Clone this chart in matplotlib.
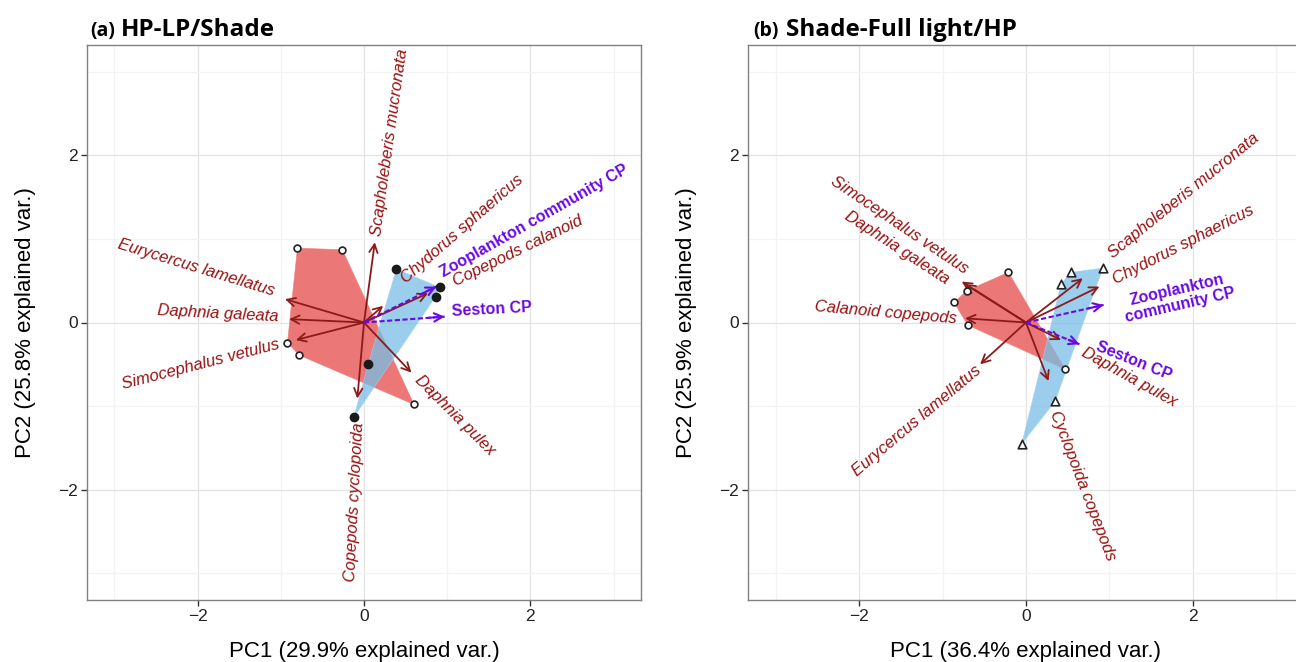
import numpy as np
import matplotlib.pyplot as plt

# ---- panel (a) HP-LP/Shade ----
a_red_x = [-0.80, -0.26, -0.92, -0.78, 0.60]
a_red_y = [0.89, 0.87, -0.24, -0.39, -0.98]
a_blue_x = [0.39, 0.91, 0.86, 0.05, -0.12]
a_blue_y = [0.64, 0.42, 0.31, -0.50, -1.13]

a_vars = ['Scapholeberis mucronata', 'Eurycercus lamellatus', 'Daphnia galeata',
          'Simocephalus vetulus', 'Daphnia pulex', 'Copepods cyclopoida',
          'Chydorus sphaericus', 'Copepods calanoid']
a_arrow_x = [0.13, -0.95, -0.90, -0.82, 0.57, -0.08, 0.23, 0.77]
a_arrow_y = [0.96, 0.28, 0.04, -0.21, -0.60, -0.91, 0.20, 0.35]
a_lab_x = [0.31, -2.02, -1.75, -1.96, 1.09, -0.11, 1.18, 1.85]
a_lab_y = [2.16, 0.65, 0.11, -0.50, -1.11, -2.15, 1.12, 0.86]
a_lab_rot = [82, -17, -3, 14.5, -45, 87, 41, 26]

a_cp = ['Zooplankton community CP', 'Seston CP']
a_cp_x = [0.87, 0.97]
a_cp_y = [0.43, 0.07]
a_cp_lab_x = [2.04, 1.54]
a_cp_lab_y = [1.21, 0.16]
a_cp_rot = [29.5, 3]

# ---- panel (b) Shade-Full light/HP ----
b_red_x = [-0.21, -0.71, -0.86, -0.70, 0.47]
b_red_y = [0.60, 0.38, 0.24, -0.03, -0.56]
b_blue_x = [0.54, 0.92, 0.42, 0.35, -0.05]
b_blue_y = [0.60, 0.65, 0.46, -0.94, -1.45]

b_vars = ['Scapholeberis mucronata', 'Chydorus sphaericus', 'Daphnia pulex',
          'Cyclopoida copepods', 'Eurycercus lamellatus', 'Calanoid copepods',
          'Daphnia galeata', 'Simocephalus vetulus']
b_arrow_x = [0.68, 0.88, 0.42, 0.27, -0.55, -0.73, -0.73, -0.77]
b_arrow_y = [0.53, 0.43, -0.21, -0.70, -0.50, 0.05, 0.46, 0.49]
b_lab_x = [1.89, 1.89, 1.24, 0.68, -1.31, -1.68, -1.55, -1.52]
b_lab_y = [1.52, 0.93, -0.65, -1.95, -1.18, 0.12, 0.90, 1.17]
b_lab_rot = [39, 27, -29, -69, 40, -5, -33, -34]

b_cp = ['Zooplankton\ncommunity CP', 'Seston CP']
b_cp_x = [0.93, 0.64]
b_cp_y = [0.21, -0.26]
b_cp_lab_x = [1.83, 1.29]
b_cp_lab_y = [0.30, -0.46]
b_cp_rot = [13, -22]

RED_FILL = '#E8605F'
BLUE_FILL = '#79BEE6'
ARROW = '#8B1A1A'
LABEL = '#991111'
PURPLE = '#6A0AE0'
FONT = 'Liberation Sans'


def hull(xs, ys):
    pts = sorted(zip(xs, ys))
    def cross(o, a, b):
        return (a[0]-o[0])*(b[1]-o[1]) - (a[1]-o[1])*(b[0]-o[0])
    lower, upper = [], []
    for p in pts:
        while len(lower) >= 2 and cross(lower[-2], lower[-1], p) <= 0:
            lower.pop()
        lower.append(p)
    for p in reversed(pts):
        while len(upper) >= 2 and cross(upper[-2], upper[-1], p) <= 0:
            upper.pop()
        upper.append(p)
    return np.array(lower[:-1] + upper[:-1])


def draw_panel(ax, red, blue, blue_marker, vars_, ax_, ay_, lx, ly, lrot,
               cps, cx, cy, clx, cly, crot, xlabel, ylabel):
    ax.set_xlim(-3.33, 3.33)
    ax.set_ylim(-3.32, 3.32)
    ax.set_xticks([-2, 0, 2])
    ax.set_yticks([-2, 0, 2])
    ax.set_xticks([-3, -1, 1, 3], minor=True)
    ax.set_yticks([-3, -1, 1, 3], minor=True)
    ax.grid(True, which='major', color='#e3e3e3', lw=0.9, zorder=0)
    ax.grid(True, which='minor', color='#f3f3f3', lw=0.9, zorder=0)
    ax.set_axisbelow(True)
    ax.tick_params(which='minor', length=0)
    ax.tick_params(which='major', length=4, width=1, color='#333333', pad=2.5,
                   labelsize=12.5, labelcolor='#222222')
    for t in ax.get_xticklabels() + ax.get_yticklabels():
        t.set_family(FONT)
    for s in ax.spines.values():
        s.set_color('#808080')
        s.set_linewidth(1)

    h = hull(*red)
    ax.fill(h[:, 0], h[:, 1], color=RED_FILL, alpha=0.85, lw=0.5, ec='#F08080', zorder=1)
    h = hull(*blue)
    ax.fill(h[:, 0], h[:, 1], color=BLUE_FILL, alpha=0.75, lw=0.5, ec='#9fd3f0', zorder=2)

    ax.scatter(*red, s=24, facecolor='white', edgecolor='#222222', lw=1.2, zorder=5)
    if blue_marker == 'o':
        ax.scatter(*blue, s=36, facecolor='#1a1a1a', edgecolor='#1a1a1a', zorder=5)
    else:
        ax.scatter(*blue, s=38, marker='^', facecolor='white', edgecolor='#222222',
                   lw=1.2, zorder=5)

    for x, y in zip(ax_, ay_):
        ax.annotate('', xy=(x, y), xytext=(0, 0), zorder=4,
                    arrowprops=dict(arrowstyle='->', color=ARROW, lw=1.3,
                                    mutation_scale=15, shrinkA=0, shrinkB=0))
    for x, y in zip(cx, cy):
        ax.plot([0, x], [0, y], color=PURPLE, lw=1.5, ls=(0, (2.5, 1.2)), zorder=4)
        ax.annotate('', xy=(x, y), xytext=(0.8 * x, 0.8 * y), zorder=4,
                    arrowprops=dict(arrowstyle='->', color=PURPLE, lw=1.5,
                                    mutation_scale=15, shrinkA=0, shrinkB=0))

    for name, x, y, r in zip(vars_, lx, ly, lrot):
        ax.text(x, y, name, rotation=r, rotation_mode='anchor', ha='center', va='center',
                color=LABEL, fontsize=12, style='italic', family=FONT, zorder=6)
    for name, x, y, r in zip(cps, clx, cly, crot):
        ax.text(x, y, name, rotation=r, rotation_mode='anchor', ha='center', va='center',
                color=PURPLE, fontsize=11.5, weight='bold', family=FONT,
                linespacing=1.05, zorder=6)

    ax.set_xlabel(xlabel, fontsize=16, family=FONT, labelpad=12)
    ax.set_ylabel(ylabel, fontsize=16, family=FONT, labelpad=16)


fig = plt.figure(figsize=(12.96, 6.62), dpi=100)
ax1 = fig.add_axes([87 / 1296, 62 / 662, 554 / 1296, 555 / 662])
ax2 = fig.add_axes([748 / 1296, 62 / 662, 556 / 1296, 555 / 662])

draw_panel(ax1, (a_red_x, a_red_y), (a_blue_x, a_blue_y), 'o', a_vars, a_arrow_x,
           a_arrow_y, a_lab_x, a_lab_y, a_lab_rot, a_cp, a_cp_x, a_cp_y,
           a_cp_lab_x, a_cp_lab_y, a_cp_rot,
           'PC1 (29.9% explained var.)', 'PC2 (25.8% explained var.)')
draw_panel(ax2, (b_red_x, b_red_y), (b_blue_x, b_blue_y), '^', b_vars, b_arrow_x,
           b_arrow_y, b_lab_x, b_lab_y, b_lab_rot, b_cp, b_cp_x, b_cp_y,
           b_cp_lab_x, b_cp_lab_y, b_cp_rot,
           'PC1 (36.4% explained var.)', 'PC2 (25.9% explained var.)')

# panel titles
fig.text(90 / 1296, 1 - 36 / 662, '(a)', fontsize=14, weight='bold', family='Open Sans')
fig.text(121 / 1296, 1 - 36 / 662, 'HP-LP/Shade', fontsize=17.5, weight='bold',
         family='Open Sans')
fig.text(753 / 1296, 1 - 36 / 662, '(b)', fontsize=14, weight='bold', family='Open Sans')
fig.text(786 / 1296, 1 - 36 / 662, 'Shade-Full light/HP', fontsize=17.5, weight='bold',
         family='Open Sans')

fig.savefig('out.png', dpi=100)
